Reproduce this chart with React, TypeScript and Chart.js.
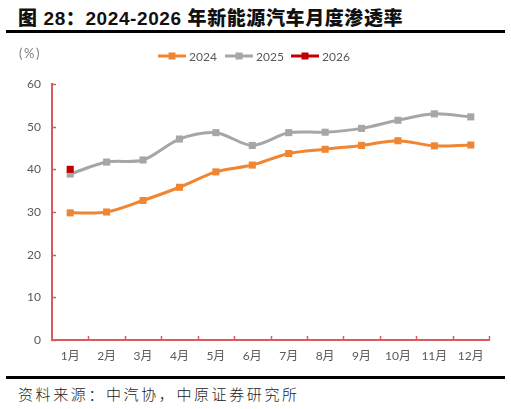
import { useEffect, useRef } from "react"
import { Chart, registerables } from "chart.js"

Chart.register(...registerables)

// 数据
const months = ["1月", "2月", "3月", "4月", "5月", "6月", "7月", "8月", "9月", "10月", "11月", "12月"]
const rate2024 = [29.8, 30.0, 32.7, 35.8, 39.4, 41.0, 43.7, 44.7, 45.6, 46.7, 45.5, 45.7]
const rate2025 = [38.9, 41.7, 42.2, 47.1, 48.6, 45.6, 48.6, 48.7, 49.6, 51.5, 53.0, 52.3]
const rate2026 = [40.0, null, null, null, null, null, null, null, null, null, null, null]
const seriesNames = ["2024", "2025", "2026"]
const seriesColors = ["#F08532", "#A6A6A6", "#C00000"]

const FONT = "Lato, 'Noto Sans CJK SC', sans-serif"
const AXIS_COLOR = "#DA5A5E"

// 图例 + 单位 + 内侧刻度
const decorPlugin = {
  id: "decor",
  afterDraw(chart: any) {
    const ctx = chart.ctx
    const { left, bottom } = chart.chartArea
    const x = chart.scales.x
    const y = chart.scales.y
    ctx.save()

    // 内侧刻度
    ctx.strokeStyle = AXIS_COLOR
    ctx.lineWidth = 1.5
    const step = x.width / months.length
    for (let i = 1; i <= months.length; i++) {
      const px = Math.round(x.left + step * i) + 0.5
      ctx.beginPath()
      ctx.moveTo(px, bottom)
      ctx.lineTo(px, bottom - 4)
      ctx.stroke()
    }
    y.ticks.forEach((t: any) => {
      const py = Math.round(y.getPixelForValue(t.value)) + 0.5
      ctx.beginPath()
      ctx.moveTo(left, py)
      ctx.lineTo(left + 4, py)
      ctx.stroke()
    })

    // 单位
    ctx.fillStyle = "#7F7F7F"
    ctx.font = `13px ${FONT}`
    ctx.textBaseline = "middle"
    ctx.textAlign = "left"
    ctx.letterSpacing = "1.5px"
    ctx.fillText("(%)", 19, 18)
    ctx.letterSpacing = "0px"

    // 图例
    ctx.font = `12px ${FONT}`
    const legendX = [158, 225, 291]
    seriesNames.forEach((name, i) => {
      const lx = legendX[i]
      const ly = 20
      ctx.strokeStyle = seriesColors[i]
      ctx.lineWidth = 3
      ctx.beginPath()
      ctx.moveTo(lx, ly)
      ctx.lineTo(lx + 28, ly)
      ctx.stroke()
      ctx.fillStyle = seriesColors[i]
      ctx.fillRect(lx + 10.5, ly - 3.5, 7, 7)
      ctx.fillStyle = "#595959"
      ctx.fillText(name, lx + 31, ly + 1)
    })
    ctx.restore()
  },
}

function LineChart() {
  const chartRef = useRef<HTMLCanvasElement>(null)
  const chartInstance = useRef<Chart | null>(null)

  useEffect(() => {
    if (!chartRef.current) return
    if (chartInstance.current) chartInstance.current.destroy()

    const sets = [rate2024, rate2025, rate2026]
    const datasets = sets.map((data, i) => ({
      label: seriesNames[i],
      data,
      borderColor: seriesColors[i],
      backgroundColor: seriesColors[i],
      borderWidth: 3,
      pointStyle: "rect" as const,
      pointRadius: 5,
      pointHoverRadius: 5,
      pointBorderWidth: 0,
      tension: 0.3,
      spanGaps: false,
      order: 2 - i,
    }))

    const ctx = chartRef.current.getContext("2d")
    if (ctx) {
      chartInstance.current = new Chart(ctx, {
        type: "line",
        data: { labels: months, datasets },
        options: {
          animation: false,
          responsive: false,
          maintainAspectRatio: false,
          layout: { padding: { top: 48, right: 22, left: 0, bottom: 0 } },
          plugins: {
            legend: { display: false },
            tooltip: { enabled: false },
          },
          scales: {
            x: {
              offset: true,
              grid: { display: false, drawTicks: false },
              border: { color: AXIS_COLOR, width: 2 },
              ticks: { color: "#595959", font: { family: FONT, size: 12 }, padding: 9, maxRotation: 0 },
              afterFit: (s: any) => {
                s.height = 32
              },
            },
            y: {
              min: 0,
              max: 60,
              grid: { display: false, drawTicks: false },
              border: { color: AXIS_COLOR, width: 2 },
              ticks: { stepSize: 10, color: "#595959", font: { family: FONT, size: 12 }, padding: 11 },
              afterFit: (s: any) => {
                s.width = 52
              },
            },
          },
        },
        plugins: [decorPlugin],
      })
    }

    return () => {
      if (chartInstance.current) chartInstance.current.destroy()
    }
  }, [])

  return <canvas ref={chartRef} width={511} height={336} style={{ display: "block", width: 511, height: 336 }} />
}

export default function App() {
  useEffect(() => {
    document.body.style.margin = "0"
  }, [])

  return (
    <div style={{ position: "relative", width: 511, height: 409, background: "#fff", overflow: "hidden" }}>
      <div
        style={{
          position: "absolute",
          left: 18,
          top: 3,
          fontFamily: "'Liberation Sans', 'Noto Sans CJK SC', sans-serif",
          fontWeight: 900,
          fontSize: 19,
          letterSpacing: 0.6,
          color: "#111",
          whiteSpace: "nowrap",
        }}
      >
        图 28：2024-2026 年新能源汽车月度渗透率
      </div>
      <div style={{ position: "absolute", left: 6, top: 30, width: 499, height: 3, background: "#000" }} />
      <div style={{ position: "absolute", left: 0, top: 36 }}>
        <LineChart />
      </div>
      <div style={{ position: "absolute", left: 6, top: 376, width: 499, height: 3, background: "#000" }} />
      <div
        style={{
          position: "absolute",
          left: 18,
          top: 383,
          fontFamily: "'Noto Sans CJK SC', sans-serif",
          fontWeight: 300,
          fontSize: 15,
          letterSpacing: 2.6,
          color: "#222",
          whiteSpace: "nowrap",
        }}
      >
        资料来源：中汽协，中原证券研究所
      </div>
    </div>
  )
}
